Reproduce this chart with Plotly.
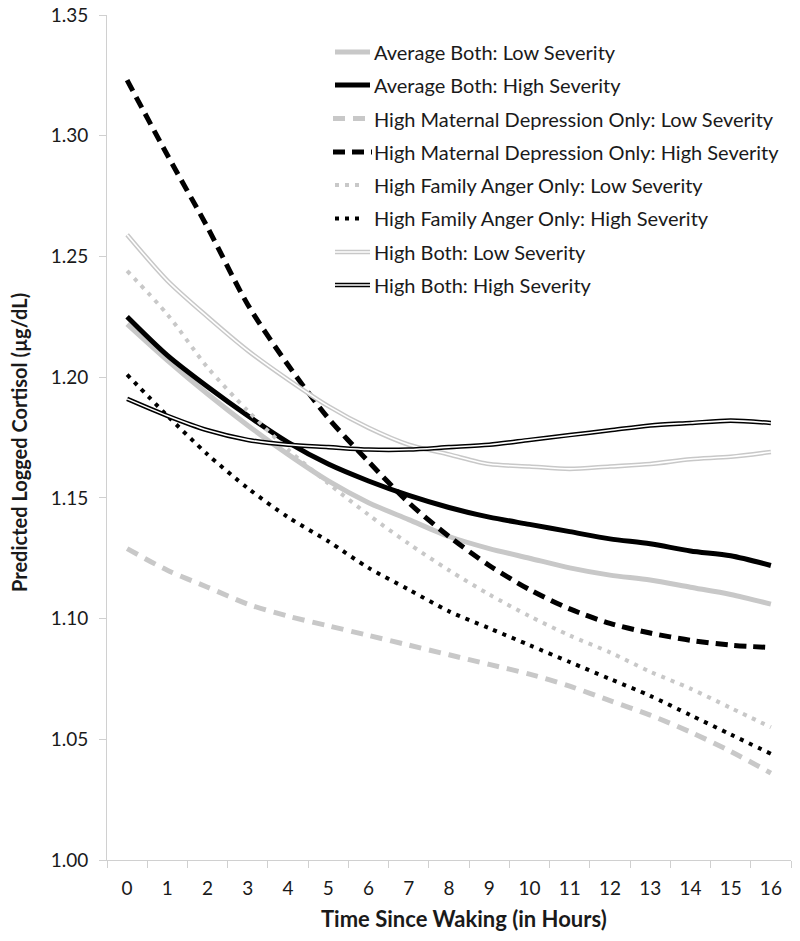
import plotly.graph_objects as go

# ---------------- data ----------------
hours = [str(h) for h in range(17)]

avg_both_low = [1.222, 1.207, 1.193, 1.180, 1.168, 1.157, 1.148, 1.141, 1.134,
                1.129, 1.125, 1.121, 1.118, 1.116, 1.113, 1.110, 1.106]
avg_both_high = [1.225, 1.209, 1.196, 1.184, 1.173, 1.164, 1.157, 1.151, 1.146,
                 1.142, 1.139, 1.136, 1.133, 1.131, 1.128, 1.126, 1.122]
mat_dep_low = [1.129, 1.120, 1.113, 1.106, 1.101, 1.097, 1.093, 1.089, 1.085,
               1.081, 1.077, 1.072, 1.066, 1.060, 1.053, 1.045, 1.036]
mat_dep_high = [1.323, 1.292, 1.262, 1.230, 1.205, 1.183, 1.165, 1.148, 1.134,
                1.122, 1.112, 1.104, 1.098, 1.094, 1.091, 1.089, 1.088]
fam_ang_low = [1.244, 1.226, 1.204, 1.186, 1.170, 1.156, 1.143, 1.131, 1.120,
               1.110, 1.101, 1.093, 1.086, 1.078, 1.071, 1.063, 1.055]
fam_ang_high = [1.201, 1.184, 1.168, 1.154, 1.142, 1.132, 1.121, 1.112, 1.103,
                1.096, 1.089, 1.082, 1.075, 1.068, 1.060, 1.052, 1.044]
high_both_low = [1.259, 1.240, 1.225, 1.211, 1.199, 1.188, 1.179, 1.172, 1.168,
                 1.164, 1.163, 1.162, 1.163, 1.164, 1.166, 1.167, 1.169]
high_both_high = [1.191, 1.184, 1.178, 1.174, 1.172, 1.171, 1.170, 1.170, 1.171,
                  1.172, 1.174, 1.176, 1.178, 1.180, 1.181, 1.182, 1.181]

series_names = [
    "Average Both: Low Severity",
    "Average Both: High Severity",
    "High Maternal Depression Only: Low Severity",
    "High Maternal Depression Only: High Severity",
    "High Family Anger Only: Low Severity",
    "High Family Anger Only: High Severity",
    "High Both: Low Severity",
    "High Both: High Severity",
]
series_values = [avg_both_low, avg_both_high, mat_dep_low, mat_dep_high,
                 fam_ang_low, fam_ang_high, high_both_low, high_both_high]

y_ticks = [1.00, 1.05, 1.10, 1.15, 1.20, 1.25, 1.30, 1.35]

# ---------------- styles ----------------
GRAY = "#c8c8c8"
BLACK = "#000000"
AXIS = "#d0d0d0"
TXT = "#1a1a1a"
FONT = "Lato"

# (color, dash, width, double)
styles = [
    (GRAY, "solid", 5, False),
    (BLACK, "solid", 5, False),
    (GRAY, "12px,8px", 5, False),
    (BLACK, "12px,7px", 5, False),
    (GRAY, "4px,6px", 4, False),
    (BLACK, "4px,6px", 4, False),
    (GRAY, "solid", 4.6, True),
    (BLACK, "solid", 4.6, True),
]

fig = go.Figure()

for name, vals, (col, dash, w, dbl) in zip(series_names, series_values, styles):
    fig.add_trace(go.Scatter(
        x=hours, y=vals, mode="lines", name=name,
        line=dict(color=col, width=w, dash=dash, shape="spline", smoothing=0.8),
        showlegend=False, hoverinfo="skip"))
    if dbl:
        fig.add_trace(go.Scatter(
            x=hours, y=vals, mode="lines", name=name,
            line=dict(color="white", width=1.6, shape="spline", smoothing=0.8),
            showlegend=False, hoverinfo="skip"))

# ---------------- layout geometry ----------------
L, R, T, B = 107, 791, 15, 860
W, H = 800, 941


def paper_x(px):
    return (px - L) / (R - L)


def paper_y(py):
    return (B - py) / (B - T)


# manual legend (to show double-line samples)
row_y = [52, 85, 118.5, 152, 185, 218.5, 252, 285]
shapes = []
annotations = []
for name, (col, dash, w, dbl), ry in zip(series_names, styles, row_y):
    x0, x1 = 335, 370
    if dash.startswith("12"):
        x0, x1 = 333, 372
    if dash.startswith("4px"):
        x0, x1 = 335, 362
    shapes.append(dict(type="line", xref="paper", yref="paper",
                       x0=paper_x(x0), x1=paper_x(x1), y0=paper_y(ry), y1=paper_y(ry),
                       line=dict(color=col, width=w, dash=dash)))
    if dbl:
        shapes.append(dict(type="line", xref="paper", yref="paper",
                           x0=paper_x(x0 - 1), x1=paper_x(x1 + 1), y0=paper_y(ry), y1=paper_y(ry),
                           line=dict(color="white", width=1.6)))
    annotations.append(dict(text=name, xref="paper", yref="paper",
                            x=paper_x(372), y=paper_y(ry), xanchor="left", yanchor="middle",
                            showarrow=False, font=dict(family=FONT, size=20, color=TXT)))

annotations.append(dict(text="<b>Time Since Waking (in Hours)</b>", xref="paper", yref="paper",
                        x=paper_x(464), y=paper_y(918), xanchor="center", yanchor="middle",
                        showarrow=False, font=dict(family=FONT, size=22, color=TXT)))
annotations.append(dict(text="<b>Predicted Logged Cortisol (µg/dL)</b>", xref="paper", yref="paper",
                        x=paper_x(19), y=paper_y(443), xanchor="center", yanchor="middle",
                        textangle=-90, showarrow=False,
                        font=dict(family=FONT, size=20, color=TXT)))

fig.update_layout(
    template="none",
    width=W, height=H, autosize=False,
    margin=dict(l=L, r=W - R, t=T, b=H - B, pad=0, autoexpand=False),
    paper_bgcolor="white", plot_bgcolor="white",
    shapes=shapes, annotations=annotations,
    showlegend=False,
    font=dict(family=FONT, size=19, color=TXT),
)

fig.update_xaxes(
    type="category", categoryorder="array", categoryarray=hours,
    range=[-0.5, 16.5], showgrid=False, zeroline=False, automargin=False,
    showline=True, linecolor=AXIS, linewidth=1,
    ticks="outside", tickson="boundaries", ticklen=7, tickcolor=AXIS,
    tickfont=dict(family=FONT, size=19, color=TXT), ticklabelstandoff=11,
)
fig.update_yaxes(
    range=[1.0, 1.35], tickvals=y_ticks, ticktext=[f"{v:.2f}" for v in y_ticks],
    showgrid=False, zeroline=False, automargin=False,
    showline=True, linecolor=AXIS, linewidth=1,
    ticks="outside", ticklen=7, tickcolor=AXIS,
    tickfont=dict(family=FONT, size=19, color=TXT), ticklabelstandoff=7,
)

fig.write_html("out.html",
               config={"displayModeBar": False, "staticPlot": True},
               post_script="document.body.style.margin='0';document.body.style.padding='0';")
